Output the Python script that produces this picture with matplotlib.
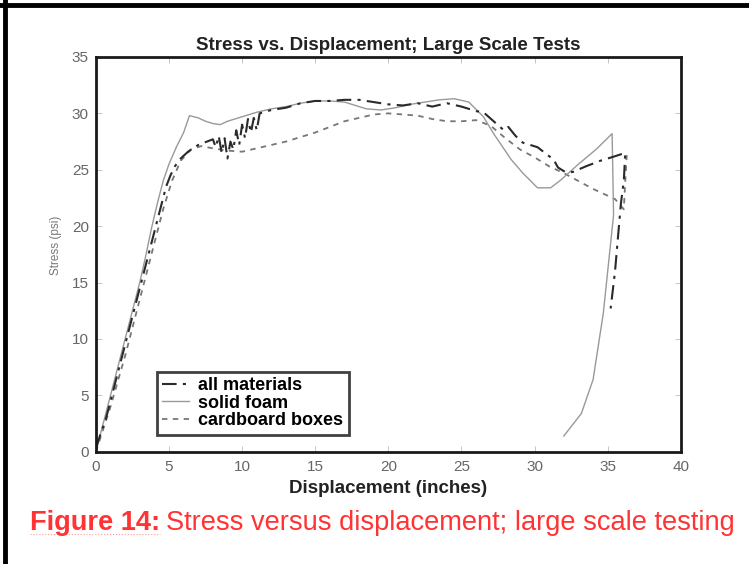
import matplotlib.pyplot as plt
from matplotlib.lines import Line2D

# all materials (dash-dot)
all_x = [0, 0.3, 0.7, 1.2, 1.7, 2.2, 2.6, 3.0, 3.3, 3.6, 3.9, 4.2, 4.5, 4.8, 5.1, 5.4, 5.8, 6.3, 7.0,
         7.6, 8.0, 8.2, 8.4, 8.6, 8.8, 9.0, 9.2, 9.4, 9.6, 9.8, 10.0, 10.2, 10.4, 10.6, 10.8, 11.0,
         11.2, 12, 13, 14, 15, 16, 17, 18, 19, 20, 21, 22, 23, 24, 25, 26, 26.5, 27.2, 27.9, 28.2,
         28.7, 29.2, 30.2, 30.8, 31.3, 31.6, 32.1, 32.6, 33.5, 34.5, 35.5, 36.2, 36.1, 35.9, 35.7,
         35.5, 35.2]
all_y = [0.3, 1.5, 3, 5.5, 8, 10.5, 12.5, 14.5, 16, 17.5, 19, 20.5, 22, 23.5, 24.5, 25.3, 26, 26.6,
         27.2, 27.5, 27.7, 27, 28, 26.5, 27.8, 26, 27.5, 26.8, 28.5, 27.2, 29, 27.8, 29.5, 28.3, 29.6,
         28.5, 30, 30.3, 30.5, 30.9, 31.1, 31.1, 31.2, 31.2, 31, 30.8, 30.7, 30.9, 30.6, 30.9, 30.6,
         30.2, 30.1, 29.3, 28.5, 28.8, 28.0, 27.4, 27.0, 26.4, 25.9, 25.2, 24.8, 24.8, 25.3, 25.8,
         26.2, 26.5, 24, 22, 19, 16, 12.7]

# solid foam
foam_x = [0, 0.5, 1, 1.5, 2, 2.5, 3, 3.4, 3.8, 4.2, 4.6, 5, 5.5, 6, 6.4, 7, 7.5, 8, 8.5, 9, 10, 11,
          12, 13, 14, 15, 16, 17, 18, 18.5, 19.5, 20.5, 21.5, 22.5, 23.5, 24.5, 25.5, 26.5, 27.2,
          28.4, 29.2, 30.2, 31.1, 31.8, 33, 34.2, 35.3, 35.4, 34.7, 34.0, 33.2, 32.0]
foam_y = [0, 2.5, 5, 7.5, 10, 12.5, 15, 17.3, 19.8, 22, 24, 25.5, 27, 28.3, 29.8, 29.6, 29.3, 29.1,
          29.0, 29.3, 29.7, 30.1, 30.4, 30.6, 30.9, 31.1, 31.1, 31.0, 30.6, 30.4, 30.3, 30.5, 30.8,
          31.0, 31.2, 31.3, 31.0, 29.7, 28.2, 25.9, 24.7, 23.4, 23.4, 24.1, 25.5, 26.8, 28.2, 21,
          12.3, 6.4, 3.4, 1.4]

# cardboard boxes
card_x = [0, 1, 2, 3, 4, 4.6, 5.2, 5.8, 6.5, 7.2, 8, 9, 10, 11, 12, 13, 14, 15, 16, 17, 18, 19, 20,
          21, 22, 23, 24, 25, 26, 27, 28, 29, 30, 31, 32, 33, 34, 35, 35.5, 36.1, 36.2, 36.3]
card_y = [0, 4, 8.5, 13.5, 18.5, 21.5, 24, 25.8, 26.8, 27.1, 26.9, 26.7, 26.6, 26.9, 27.2, 27.5,
          27.9, 28.3, 28.8, 29.3, 29.6, 29.9, 30, 29.9, 29.8, 29.5, 29.3, 29.3, 29.4, 28.9, 27.8,
          26.8, 26.1, 25.3, 24.7, 24.0, 23.3, 22.7, 22.4, 21.5, 24, 26.3]

x_ticks = [0, 5, 10, 15, 20, 25, 30, 35, 40]
y_ticks = [0, 5, 10, 15, 20, 25, 30, 35]

plt.rcParams['font.family'] = ['Liberation Sans', 'DejaVu Sans']

fig = plt.figure(figsize=(7.49, 5.64), dpi=100)
ax = fig.add_axes([0.128, 0.199, 0.781, 0.700])

ax.plot(card_x, card_y, color='#777777', lw=1.3, linestyle=(0, (3, 3)), label='cardboard boxes')
ax.plot(foam_x, foam_y, color='#999999', lw=1.0, label='solid foam')
ax.plot(all_x, all_y, color='#2a2a2a', lw=1.5, linestyle=(0, (7, 3, 1.5, 3)), label='all materials')

ax.set_xlim(0, 40)
ax.set_ylim(0, 35)
ax.set_xticks(x_ticks)
ax.set_yticks(y_ticks)
ax.tick_params(direction='in', length=4, width=0.6, color='#bbbbbb', labelcolor='#666666',
               labelsize=11, top=True, right=True)
ax.tick_params(axis='x', pad=6)
ax.tick_params(axis='y', pad=5)
for s in ax.spines.values():
    s.set_linewidth(2)
    s.set_color('#1a1a1a')

ax.set_title('Stress vs. Displacement; Large Scale Tests', fontsize=13.5, fontweight='bold',
             color='#222222', pad=5)
ax.set_xlabel('Displacement (inches)', fontsize=13.5, fontweight='bold', color='#222222', labelpad=4)
ax.set_ylabel('Stress (psi)', fontsize=8.5, color='#777777')
ax.yaxis.set_label_coords(-0.058, 0.524)

h, l = ax.get_legend_handles_labels()
leg = ax.legend(h[::-1], l[::-1], loc='upper left', bbox_to_anchor=(0.104, 0.203),
                prop={'weight': 'bold', 'size': 13}, frameon=True, fancybox=False,
                borderpad=0.3, labelspacing=0.04, handlelength=1.5, handletextpad=0.5,
                borderaxespad=0)
leg.get_frame().set_edgecolor('#111111')
leg.get_frame().set_linewidth(2)

# caption
fig.canvas.draw()
r = fig.canvas.get_renderer()
t1 = fig.text(0.040, 0.060, 'Figure 14:', color='#ff3333', fontsize=19.6, fontweight='bold')
bb = t1.get_window_extent(renderer=r).transformed(fig.transFigure.inverted())
fig.text(bb.x1 + 0.008, 0.060, 'Stress versus displacement; large scale testing', color='#ff3333',
         fontsize=19.6)
fig.add_artist(Line2D([bb.x0, bb.x1], [0.053, 0.053], color='#ff9999', lw=0.8, linestyle=':'))

# page border
fig.add_artist(Line2D([0, 1], [0.991, 0.991], color='black', lw=3.5))
fig.add_artist(Line2D([0.0067, 0.0067], [0, 1], color='black', lw=3.5))

plt.savefig('out.png', dpi=100)
